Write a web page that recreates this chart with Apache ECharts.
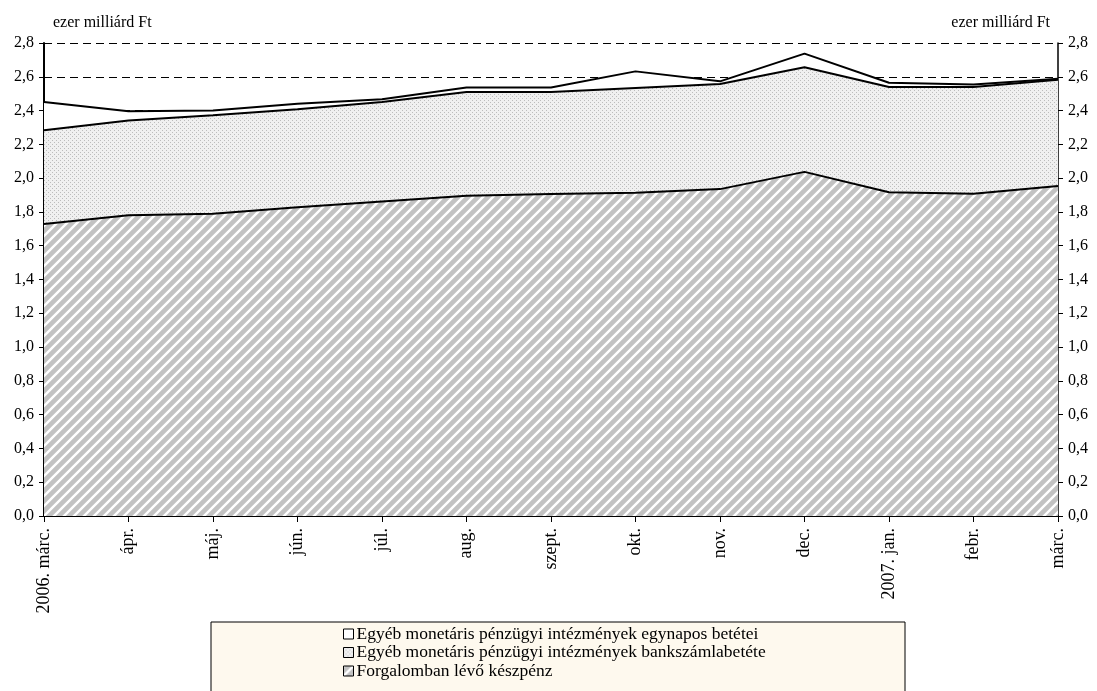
<!DOCTYPE html>
<html>
<head>
<meta charset="utf-8">
<script src="https://cdn.jsdelivr.net/npm/echarts@6/dist/echarts.min.js"></script>
<style>
body { margin: 0; background: #fff; }
#chart { width: 1097px; height: 691px; }
</style>
</head>
<body>
<div id="chart"></div>
<script>
var months = ['2006. márc.', 'ápr.', 'máj.', 'jún.', 'júl.', 'aug.', 'szept.', 'okt.', 'nov.', 'dec.', '2007. jan.', 'febr.', 'márc.'];
// ezer milliárd Ft
var keszpenz = [1.728, 1.781, 1.789, 1.827, 1.862, 1.896, 1.906, 1.913, 1.935, 2.037, 1.917, 1.907, 1.953];
var bankszamla = [0.556, 0.560, 0.583, 0.581, 0.589, 0.614, 0.604, 0.621, 0.622, 0.619, 0.623, 0.633, 0.630];
var egynapos = [0.167, 0.055, 0.028, 0.033, 0.016, 0.026, 0.026, 0.098, 0.016, 0.081, 0.025, 0.014, 0.006];
var names = ['Forgalomban lévő készpénz', 'Egyéb monetáris pénzügyi intézmények bankszámlabetéte', 'Egyéb monetáris pénzügyi intézmények egynapos betétei'];

var FONT = 'Liberation Serif';

function hatchPattern() {
	var c = document.createElement('canvas');
	c.width = 10; c.height = 10;
	var ctx = c.getContext('2d');
	ctx.fillStyle = '#c2c2c2';
	ctx.fillRect(0, 0, 10, 10);
	ctx.strokeStyle = '#ffffff';
	ctx.lineWidth = 2.4;
	ctx.beginPath();
	ctx.moveTo(-1, 11); ctx.lineTo(11, -1);
	ctx.moveTo(-6, 6); ctx.lineTo(6, -6);
	ctx.moveTo(4, 16); ctx.lineTo(16, 4);
	ctx.stroke();
	return c;
}
function dotPattern() {
	var c = document.createElement('canvas');
	c.width = 4; c.height = 4;
	var ctx = c.getContext('2d');
	ctx.fillStyle = '#f0f0f0';
	ctx.fillRect(0, 0, 4, 4);
	ctx.fillStyle = '#bcbcbc';
	ctx.fillRect(0, 0, 1, 1);
	ctx.fillRect(2, 2, 1, 1);
	return c;
}
var hatch = { image: hatchPattern(), repeat: 'repeat' };
var dots = { image: dotPattern(), repeat: 'repeat' };

function fmt(v) {
	return v.toFixed(1).replace('.', ',');
}
function yAxisOpt(pos, align, pad) {
	return {
		type: 'value',
		position: pos,
		min: 0,
		max: 2.8,
		interval: 0.2,
		name: 'ezer milliárd Ft',
		nameLocation: 'end',
		nameGap: 12,
		nameTextStyle: { fontFamily: FONT, fontSize: 16, color: '#000', align: align, padding: pad },
		axisLine: { show: true, lineStyle: { color: '#000', width: pos == 'left' ? 2 : 1.5 } },
		axisTick: { show: true, length: 5, lineStyle: { color: '#000' } },
		axisLabel: { fontFamily: FONT, fontSize: 16, color: '#000', margin: 10, formatter: fmt },
		splitLine: { show: pos == 'left', lineStyle: { color: '#000', type: [8, 5], width: 1 } }
	};
}
function makeSeries(name, data, fill, z) {
	return {
		name: name,
		type: 'line',
		stack: 'total',
		data: data,
		symbol: 'none',
		z: z,
		lineStyle: { color: '#000', width: 2 },
		itemStyle: { color: fill },
		areaStyle: { color: fill, opacity: 1 },
		emphasis: { disabled: true }
	};
}

var option = {
	animation: false,
	backgroundColor: '#fff',
	grid: { left: 44, right: 39, top: 43, bottom: 175, outerBoundsMode: 'none' },
	graphic: [{
		type: 'rect',
		z: 0,
		shape: { x: 211, y: 622, width: 694, height: 80 },
		style: { fill: '#fef9ee', stroke: '#000', lineWidth: 1 }
	}],
	legend: {
		orient: 'vertical',
		left: 343,
		top: 625,
		padding: 0,
		itemGap: 0.5,
		itemWidth: 10,
		itemHeight: 10,
		icon: 'rect',
		itemStyle: { borderColor: '#000', borderWidth: 1 },
		textStyle: { fontFamily: FONT, fontSize: 17.5, color: '#000', padding: [0, 0, 0, -2] },
		data: [names[2], names[1], names[0]]
	},
	xAxis: {
		type: 'category',
		data: months,
		boundaryGap: false,
		axisLine: { lineStyle: { color: '#000', width: 2 } },
		axisTick: { show: true, length: 6, lineStyle: { color: '#000' } },
		axisLabel: { rotate: 90, fontFamily: FONT, fontSize: 18, color: '#000', margin: 12, interval: 0 }
	},
	yAxis: [yAxisOpt('left', 'left', [0, 0, 0, 9]), yAxisOpt('right', 'right', [0, 8, 0, 0])],
	series: [
		makeSeries(names[0], keszpenz, hatch, 4),
		makeSeries(names[1], bankszamla, dots, 3),
		makeSeries(names[2], egynapos, '#ffffff', 2)
	]
};

var chart = echarts.init(document.getElementById('chart'));
chart.setOption(option);
</script>
</body>
</html>
